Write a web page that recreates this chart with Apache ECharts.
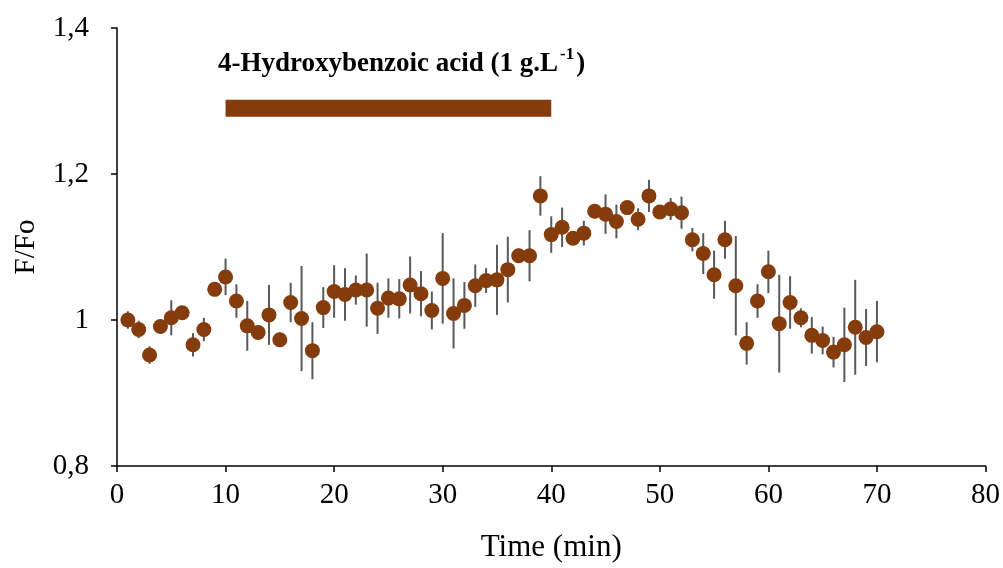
<!DOCTYPE html>
<html>
<head>
<meta charset="utf-8">
<script src="https://cdn.jsdelivr.net/npm/echarts@6/dist/echarts.min.js"></script>
<style>
  html, body { margin: 0; padding: 0; background: #fff; }
  #chart { width: 1003px; height: 568px; }
</style>
</head>
<body>
<div id="chart"></div>
<script>
// time points (min)
const times = [1,2,3,4,5,6,7,8,9,10,11,12,13,14,15,16,17,18,19,20,21,22,23,24,25,26,27,28,29,30,31,32,33,34,35,36,37,38,39,40,41,42,43,44,45,46,47,48,49,50,51,52,53,54,55,56,57,58,59,60,61,62,63,64,65,66,67,68,69,70]
// mean F/Fo
const ratio = [1.000,0.987,0.952,0.991,1.003,1.010,0.966,0.987,1.042,1.059,1.026,0.992,0.983,1.007,0.973,1.024,1.002,0.958,1.017,1.039,
  1.035,1.041,1.041,1.016,1.030,1.029,1.048,1.036,1.013,1.057,1.009,1.020,1.047,1.054,1.055,1.069,1.088,1.088,1.170,1.117,
  1.127,1.112,1.119,1.149,1.145,1.135,1.154,1.138,1.170,1.148,1.152,1.147,1.110,1.091,1.062,1.110,1.047,0.968,1.026,1.066,
  0.995,1.024,1.003,0.979,0.972,0.956,0.966,0.990,0.976,0.984]
// error (half length)
const err = [0.012,0.012,0.012,0.005,0.024,0.005,0.016,0.016,0.005,0.025,0.023,0.034,0.010,0.041,0.010,0.027,0.072,0.039,0.028,0.036,
  0.036,0.020,0.050,0.035,0.027,0.027,0.039,0.031,0.026,0.062,0.048,0.032,0.029,0.017,0.048,0.045,0.010,0.035,0.027,0.025,
  0.027,0.008,0.017,0.010,0.027,0.023,0.005,0.015,0.022,0.008,0.015,0.022,0.016,0.028,0.033,0.026,0.068,0.029,0.023,0.029,
  0.067,0.036,0.013,0.025,0.019,0.021,0.051,0.065,0.039,0.042]
// treatment period bar
const treatX = [10, 40]
const treatY = 1.29
const yTicks = [0.8, 1.0, 1.2, 1.4]

const brown = '#843C0C'
const font = '"Liberation Serif", "Times New Roman", serif'

const chart = echarts.init(document.getElementById('chart'))

const points = times.map((t, i) => [t, ratio[i]])
const bars = times.map((t, i) => [t, ratio[i] - err[i], ratio[i] + err[i]])

const option = {
  animation: false,
  backgroundColor: '#fff',
  title: {
    left: 213, top: 41,
    text: '{b|4-Hydroxybenzoic acid (1 g.L}{s|-1}{b|)}',
    textStyle: {
      rich: {
        b: { fontFamily: font, fontWeight: 'bold', fontSize: 27, color: '#000', lineHeight: 36 },
        s: { fontFamily: font, fontWeight: 'bold', fontSize: 17, color: '#000', verticalAlign: 'top', lineHeight: 30, padding: [0, 2, 0, 2] }
      }
    }
  },
  grid: { left: 117, right: 16, top: 28, bottom: 100 },
  xAxis: {
    type: 'value', min: 0, max: 80, interval: 10,
    name: 'Time (min)', nameLocation: 'middle', nameGap: 66,
    nameTextStyle: { fontFamily: font, fontSize: 31, color: '#000' },
    axisLine: { lineStyle: { color: '#000', width: 1.5 } },
    axisTick: { show: true, inside: false, length: 6, lineStyle: { color: '#000', width: 1.5 } },
    axisLabel: { fontFamily: font, fontSize: 29, color: '#000', margin: 15 },
    splitLine: { show: false }
  },
  yAxis: {
    type: 'value', min: 0.8, max: 1.4, interval: 0.2,
    name: 'F/Fo', nameLocation: 'middle', nameGap: 76,
    nameTextStyle: { fontFamily: font, fontSize: 29, color: '#000' },
    axisLine: { show: true, lineStyle: { color: '#000', width: 1.5 } },
    axisTick: { show: true, inside: false, length: 6, lineStyle: { color: '#000', width: 1.5 } },
    axisLabel: {
      fontFamily: font, fontSize: 29, color: '#000', margin: 28,
      formatter: v => {
        const r = Math.round(v * 10) / 10
        return yTicks.includes(r) ? String(r).replace('.', ',') : ''
      }
    },
    splitLine: { show: false }
  },
  series: [
    {
      type: 'line',
      data: [[treatX[0], treatY], [treatX[1], treatY]],
      symbol: 'none',
      lineStyle: { color: brown, width: 17, cap: 'butt' },
      z: 1
    },
    {
      type: 'custom',
      data: bars,
      renderItem: (params, api) => {
        const p1 = api.coord([api.value(0), api.value(1)])
        const p2 = api.coord([api.value(0), api.value(2)])
        return {
          type: 'line',
          shape: { x1: p1[0], y1: p1[1], x2: p2[0], y2: p2[1] },
          style: { stroke: '#595959', lineWidth: 2 }
        }
      },
      z: 2
    },
    {
      type: 'scatter',
      data: points,
      symbol: 'circle',
      symbolSize: 15,
      itemStyle: { color: brown, opacity: 1 },
      z: 3
    }
  ]
}

chart.setOption(option)
</script>
</body>
</html>
